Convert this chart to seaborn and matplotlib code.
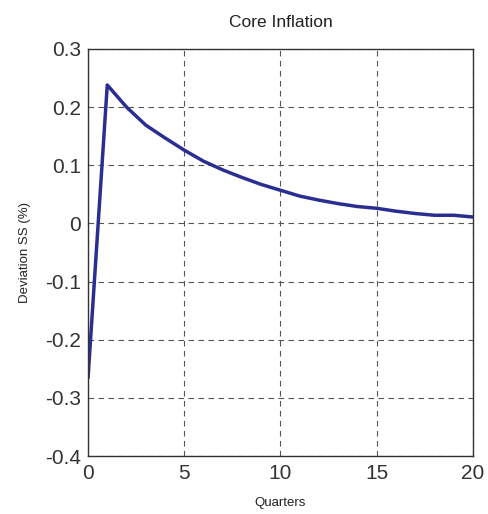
import numpy as np
import pandas as pd
import seaborn as sns
import matplotlib
matplotlib.use("Agg")
import matplotlib.pyplot as plt

quarters = list(range(21))
core_inflation = [-0.266, 0.238, 0.200, 0.169, 0.147, 0.126, 0.107, 0.092, 0.079,
                  0.067, 0.057, 0.047, 0.040, 0.034, 0.029, 0.026, 0.021, 0.017,
                  0.014, 0.014, 0.011]
xticks = [0, 5, 10, 15, 20]
yticks = [-0.4, -0.3, -0.2, -0.1, 0, 0.1, 0.2, 0.3]
ytick_labels = ["-0.4", "-0.3", "-0.2", "-0.1", "0", "0.1", "0.2", "0.3"]

sns.set_theme(style="white")
plt.rcParams['font.family'] = ['Liberation Sans', 'DejaVu Sans']

df = pd.DataFrame({"Quarters": quarters, "Value": core_inflation})

fig = plt.figure(figsize=(4.89, 5.14), dpi=100)
ax = fig.add_axes([0.18, 0.1128, 0.787, 0.792])
sns.lineplot(data=df, x="Quarters", y="Value", ax=ax, color="#2B2E91", linewidth=2.5)

ax.set_xlim(0, 20)
ax.set_ylim(-0.4, 0.3)
ax.set_xticks(xticks)
ax.set_xticklabels([str(t) for t in xticks])
ax.set_yticks(yticks)
ax.set_yticklabels(ytick_labels)
ax.grid(True, linestyle=(0, (5, 4)), color="#555555", linewidth=0.8)
ax.tick_params(axis="both", labelsize=15, colors="#333333", direction="in", length=3)
ax.tick_params(axis="x", pad=6)
ax.tick_params(axis="y", pad=5)
for s in ax.spines.values():
    s.set_color("#333333")
    s.set_linewidth(1.0)
ax.set_title("Core Inflation", fontsize=12.5, color="#222222", pad=16)
ax.set_xlabel("Quarters", fontsize=9.5, color="#222222", labelpad=10)
ax.set_ylabel("Deviation SS (%)", fontsize=9.5, color="#222222", labelpad=10)

fig.savefig("out.png", dpi=100)
